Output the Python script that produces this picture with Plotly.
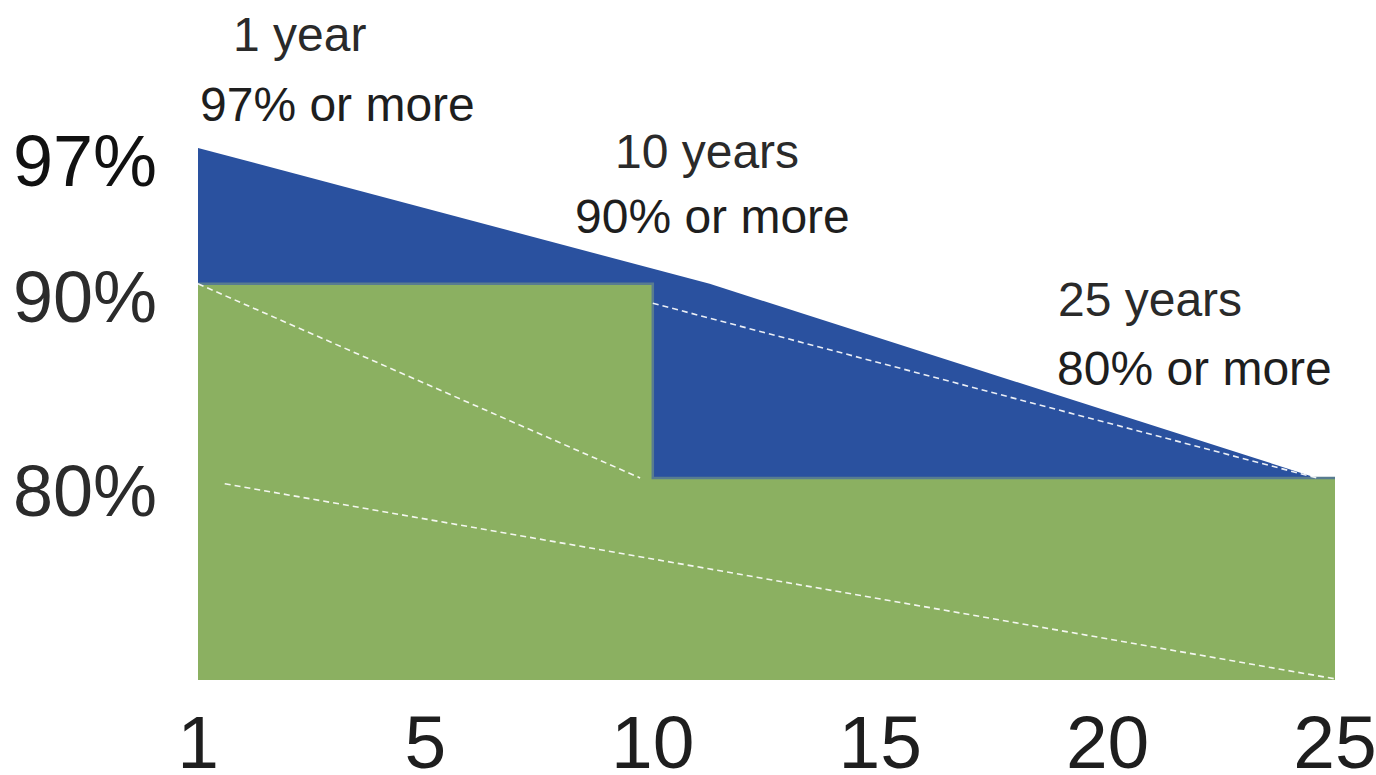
import numpy as np
import plotly.graph_objects as go

# Evenly spaced year ticks along the bottom axis
tick_years = [1, 5, 10, 15, 20, 25]
tick_text = ["1", "5", "10", "15", "20", "25"]

# Linear warranty (blue): guaranteed output falls steadily
linear_years = [1, 11.25, 24.6]
linear_pct = [97, 90, 80]

# Step warranty (green): 90% for 10 years, then 80% up to year 25
step_years = [1, 10, 10, 25]
step_pct = [90, 90, 80, 80]

# White dashed guide lines
dash_a_years = [1, 9.72]
dash_a_pct = [90, 80]
dash_b_years = [10, 24.6]
dash_b_pct = [89.0, 80]
dash_c_years = [1.47, 25]
dash_c_pct = [79.7, 69.65]

# Percent labels on the left
level_labels = ["97%", "90%", "80%"]
level_values = [97, 90, 80]

# Milestone captions
milestones = [("1 year", "97% or more"), ("10 years", "90% or more"), ("25 years", "80% or more")]

slots = list(range(len(tick_years)))


def slot(years):
    return np.interp(years, tick_years, slots)


BLUE = "#2A519F"
GREEN = "#8BB061"
EDGE = "#587C90"
FONT = "Liberation Sans, Arial, sans-serif"

fig = go.Figure()

fig.add_trace(go.Scatter(
    x=slot(linear_years), y=linear_pct, mode="lines",
    line=dict(color=BLUE, width=0), fill="tozeroy", fillcolor=BLUE,
    hoverinfo="skip", showlegend=False,
))
fig.add_trace(go.Scatter(
    x=slot(step_years), y=step_pct, mode="lines",
    line=dict(color=EDGE, width=2.5), fill="tozeroy", fillcolor=GREEN,
    hoverinfo="skip", showlegend=False,
))
for xs, ys in [(dash_a_years, dash_a_pct), (dash_b_years, dash_b_pct), (dash_c_years, dash_c_pct)]:
    fig.add_trace(go.Scatter(
        x=slot(xs), y=ys, mode="lines",
        line=dict(color="rgba(255,255,255,0.9)", width=1.6, dash="6px,4px"),
        hoverinfo="skip", showlegend=False,
    ))

annotations = []
for i, (txt, val) in enumerate(zip(level_labels, level_values)):
    annotations.append(dict(
        x=-0.497, y=val, xref="x", yref="y", text=txt, showarrow=False,
        xanchor="center", yanchor="middle", yshift=-13,
        font=dict(family=FONT, size=72, color="#111111" if i == 0 else "#2b2b2b"),
    ))

# caption centres in pixels (x of each line, y of each line)
caption_px = [(299, 337, 34, 104), (707, 712, 151, 217), (1150, 1194, 299, 368)]
W, H_PLOT = 1376, 680
for (head, sub), (x1, x2, y1, y2) in zip(milestones, caption_px):
    for t, px, py, col in [(head, x1, y1, "#2a2a2a"), (sub, x2, y2, "#1e1e1e")]:
        annotations.append(dict(
            x=px / W, y=1 - py / H_PLOT, xref="paper", yref="paper", text=t,
            showarrow=False, xanchor="center", yanchor="middle",
            font=dict(family=FONT, size=48, color=col),
        ))

fig.update_layout(
    width=1376, height=775,
    margin=dict(l=0, r=0, t=0, b=95),
    paper_bgcolor="white", plot_bgcolor="white",
    annotations=annotations,
    xaxis=dict(
        range=[-198 / 227.4, 5 + 41 / 227.4], tickvals=slots, ticktext=tick_text,
        showgrid=False, zeroline=False, showline=False, ticks="",
        tickfont=dict(family=FONT, size=75, color="#1e1e1e"),
        ticklabelstandoff=12, ticklabeloverflow="allow",
        automargin=False, fixedrange=True,
    ),
    yaxis=dict(
        range=[69.59, 104.62], showgrid=False, zeroline=False, showline=False,
        showticklabels=False, ticks="", fixedrange=True,
    ),
)

fig.write_html("out.html")
